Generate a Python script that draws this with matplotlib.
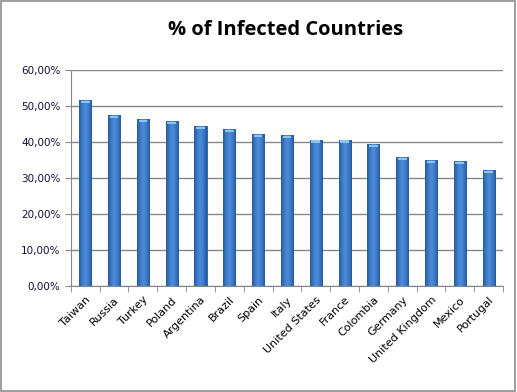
import matplotlib
matplotlib.use("Agg")
import matplotlib.pyplot as plt
from matplotlib.patches import Rectangle
from matplotlib.ticker import FuncFormatter
import numpy as np

countries = ["Taiwan", "Russia", "Turkey", "Poland", "Argentina", "Brazil", "Spain",
             "Italy", "United States", "France", "Colombia", "Germany",
             "United Kingdom", "Mexico", "Portugal"]
infected = [0.516, 0.475, 0.464, 0.458, 0.444, 0.436, 0.422,
            0.419, 0.407, 0.407, 0.394, 0.358, 0.350, 0.347, 0.322]


def main():
    fig = plt.figure(figsize=(5.17, 3.92), dpi=100)
    fig.patches.append(Rectangle((0.002, 0.003), 0.994, 0.994, transform=fig.transFigure,
                                 fill=False, edgecolor="#8c8c8c", linewidth=1.2))
    ax = fig.add_axes([0.137, 0.270, 0.836, 0.551])

    x = np.arange(len(countries))
    width = 0.42
    bars = ax.bar(x, infected, width, color="#3d7cc9", edgecolor="#2b5c9e",
                  linewidth=0.6, zorder=3)

    # horizontal gradient on each bar (dark edges, light centre)
    grad = np.linspace(-1, 1, 64)
    grad = 1 - np.abs(grad) ** 1.5
    grad = np.tile(grad, (2, 1))
    cmap = matplotlib.colors.LinearSegmentedColormap.from_list("bar", ["#25599c", "#4a8ad8"])
    for b in bars:
        x0, y0 = b.get_x(), b.get_y()
        im = ax.imshow(grad, extent=[x0, x0 + b.get_width(), y0, y0 + b.get_height()],
                       aspect="auto", cmap=cmap, zorder=3.5)
        im.set_clip_path(b)
        # light cap on top
        ax.add_patch(Rectangle((x0 + 0.06, y0 + b.get_height() - 0.008), b.get_width() - 0.12,
                               0.006, color="#8cc4f4", zorder=4, linewidth=0))

    ax.set_xlim(-0.5, len(countries) - 0.5)
    ax.set_ylim(0, 0.6)
    ax.set_yticks(np.arange(0, 0.61, 0.1))
    ax.yaxis.set_major_formatter(FuncFormatter(lambda v, p: f"{v*100:.2f}%".replace(".", ",")))
    ax.yaxis.grid(True, color="#868686", linewidth=1.0, zorder=0)

    ax.set_xticks(x)
    ax.set_xticklabels(countries, rotation=45, ha="right", rotation_mode="anchor",
                       fontsize=8)
    ax.tick_params(axis="x", length=0, pad=6)
    ax.set_xticks(np.arange(-0.5, len(countries)), minor=True)
    ax.tick_params(axis="x", which="minor", length=4, color="#868686")
    ax.tick_params(axis="y", length=4, color="#868686", labelsize=7.5, labelcolor="#10103a")

    for s in ["top", "right"]:
        ax.spines[s].set_visible(False)
    ax.spines["left"].set_color("#868686")
    ax.spines["bottom"].set_color("#868686")

    fig.text(0.553, 0.923, "% of Infected Countries", ha="center", va="center",
             fontsize=14.5, fontweight="bold", family="Open Sans")

    fig.savefig("out.png", dpi=100)


if __name__ == '__main__':
    main()
